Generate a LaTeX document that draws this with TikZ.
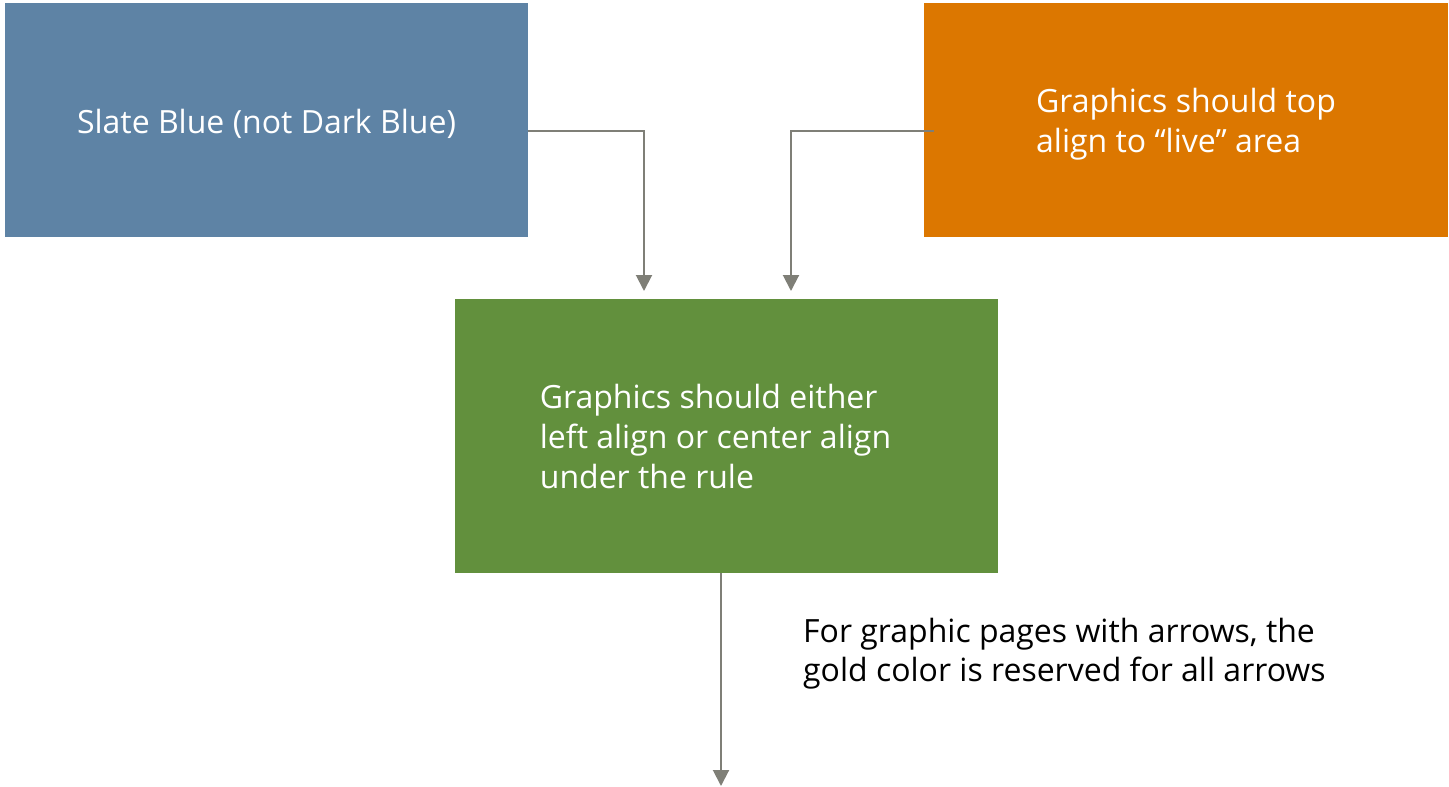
\documentclass[tikz,border=0pt]{standalone}
\usepackage{fontspec}
\setmainfont{Open Sans}
\usetikzlibrary{arrows.meta,positioning}
\definecolor{slateblue}{HTML}{5E83A5}
\definecolor{goldorange}{HTML}{DC7700}
\definecolor{leafgreen}{HTML}{62903D}
\definecolor{linegray}{HTML}{7F7F77}
\tikzset{
  box/.style={anchor=north west, inner sep=0pt, outer sep=0pt, text=white,
    font=\fontsize{32}{40}\selectfont, align=left},
  link/.style={draw=linegray, line width=2pt,
    -{Triangle[width=16pt,length=16pt]}},
}
\begin{document}
\begin{tikzpicture}[x=1pt,y=-1pt]
  \useasboundingbox (0,0) rectangle (1449,787);
  % coloured boxes
  \node[box, fill=slateblue, minimum width=523pt, minimum height=234pt] (blue) at (5,3) {};
  \node[box, fill=goldorange, minimum width=524pt, minimum height=234pt] (orange) at (924,3) {};
  \node[box, fill=leafgreen, minimum width=543pt, minimum height=274pt] (green) at (455,299) {};
  % box texts
  \node[box] (bluetext) at ([yshift=-4pt]blue.center) [anchor=center] {Slate Blue (not Dark Blue)};
  \node[box] (orangetext) at ([yshift=-4pt]orange.center) [anchor=center] {Graphics should top\\align to “live” area};
  \node[box] (greentext) at ([xshift=-11pt]green.center) [anchor=center] {Graphics should either\\left align or center align\\under the rule};
  \node[anchor=north west, inner sep=0pt, align=left, font=\fontsize{32}{39}\selectfont] (note) at (803,618)
    {For graphic pages with arrows, the\\gold color is reserved for all arrows};
  % connectors
  \coordinate (bt) at (644,291);
  \coordinate (ot) at (791,291);
  \coordinate (gt) at (721,786);
  \draw[link] (blue.east |- 0,131) -| (bt);
  \draw[link] ([xshift=10pt]orange.west |- 0,131) -| (ot);
  \draw[link] (green.south -| gt) -- (gt);
\end{tikzpicture}
\end{document}
